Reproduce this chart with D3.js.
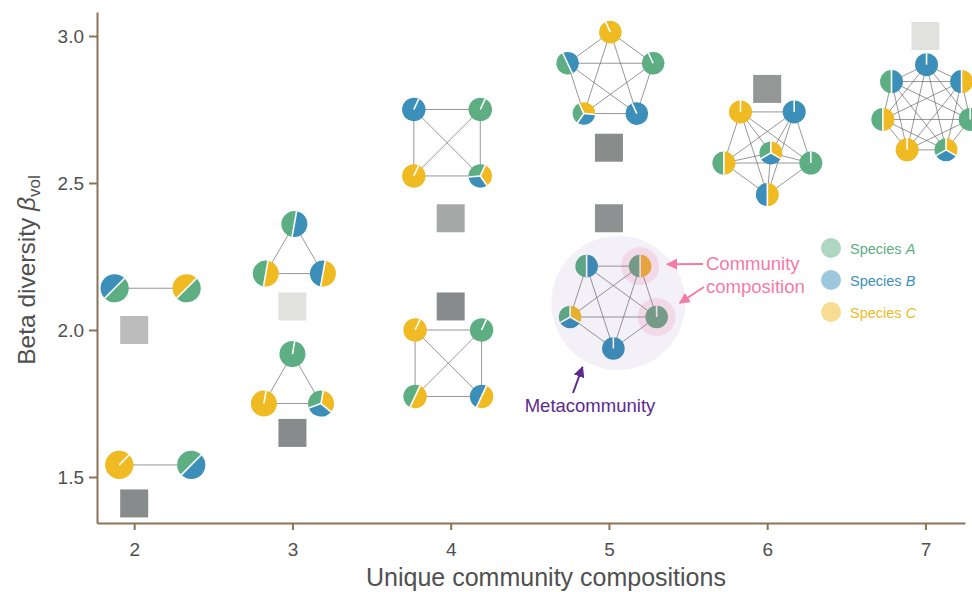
<!DOCTYPE html>
<html>
<head>
<meta charset="utf-8">
<script src="https://cdn.jsdelivr.net/npm/d3@7"></script>
<style>
  body { margin: 0; background: #fff; }
  text { font-family: "Liberation Sans", Arial, Helvetica, sans-serif; }
</style>
</head>
<body>
<svg id="chart" width="972" height="592"></svg>
<script>
// ---- data -------------------------------------------------------------
const compositionTicks = [2, 3, 4, 5, 6, 7];
const betaTicks = [1.5, 2.0, 2.5, 3.0];

// beta diversity of each example metacommunity (grey squares)
const betaX = [2, 2, 3, 3, 4, 4, 5, 5, 6, 7];
const betaY = [2.00, 1.41, 2.08, 1.65, 2.38, 2.08, 2.62, 2.38, 2.82, 3.00];
// relative lightness of each square (0 = dark, 1 = light)
const betaShade = [0.58, 0.02, 1.0, 0.02, 0.35, 0.02, 0.04, 0.10, 0.16, 1.0];

// metacommunity networks: centre (data units) and community compositions,
// listed clockwise around the network
const netCx = [2.104, 2.133, 3.012, 3.000, 3.977, 3.985, 5.009, 5.028, 6.001, 7.007];
const netCy = [2.142, 1.541, 2.248, 1.806, 2.637, 1.887, 2.860, 2.092, 2.616, 2.750];
const netNodes = [
  ["AB", "AC"],
  ["C", "AB"],
  ["AB", "BC", "AC"],
  ["A", "ABC", "C"],
  ["B", "A", "ABC", "C"],
  ["C", "A", "BC", "AC"],
  ["C", "A", "B", "ABC", "AB"],
  ["B", "ABC", "AB", "AC", "A"],
  ["BC", "AC", "C", "B", "A"],
  ["B", "BC", "A", "ABC", "C", "AC", "AB"]
];
// extra community drawn in the middle of a network
const netHub = [null, null, null, null, null, null, null, null, "ABC", null];

const speciesNames = ["A", "B", "C"];

// ---- layout -----------------------------------------------------------
const layoutRadius = [36, 36, 33, 33, 47, 47, 45, 45.5, 45.7, 44.8];
const firstVertex  = [180, 180, -90, -90, -135, -135, -90, 90, 90, -90];
const nodeRadius   = [14, 14, 13, 13, 11.7, 11.7, 11.3, 11.3, 11.5, 11.5];
const sliceStart   = [225, 45, 10, 10, 25, 25, -25, 0, 0, 0];
const hubOffset    = [3.5, 4];
const highlightNet = 7;
const highlightNodes = [3, 4];

const speciesColor = { A: "#5dae83", B: "#3b8fb8", C: "#f0ba23" };
const axisColor = "#8b7356";
const textColor = "#505050";

const svg = d3.select("#chart");
const x = d3.scaleLinear().domain([1.765, 7.25]).range([97, 965]);
const y = d3.scaleLinear().domain([1.3435, 3.0816]).range([523, 12]);
const shade = d3.scaleLinear().domain([0, 1]).range(["#868989", "#e1e1e0"]);

// ---- axes -------------------------------------------------------------
const xAxis = svg.append("g")
  .attr("transform", `translate(0,${y.range()[0]})`)
  .call(d3.axisBottom(x).tickValues(compositionTicks).tickFormat(d3.format("d"))
    .tickSize(7).tickSizeOuter(0).tickPadding(13));
const yAxis = svg.append("g")
  .attr("transform", `translate(${x.range()[0]},0)`)
  .call(d3.axisLeft(y).tickValues(betaTicks).tickFormat(d3.format(".1f"))
    .tickSize(8).tickSizeOuter(0).tickPadding(5));
[xAxis, yAxis].forEach(g => {
  g.select(".domain").attr("stroke", axisColor).attr("stroke-width", 2);
  g.selectAll(".tick line").attr("stroke", axisColor).attr("stroke-width", 2);
  g.selectAll(".tick text").attr("fill", textColor).attr("font-size", 19)
    .attr("font-family", '"Liberation Sans", Arial, sans-serif');
});

svg.append("text")
  .attr("x", 546).attr("y", 586)
  .attr("text-anchor", "middle").attr("font-size", 25).attr("fill", textColor)
  .text("Unique community compositions");

const yTitle = svg.append("text")
  .attr("transform", "translate(35,270) rotate(-90)")
  .attr("text-anchor", "middle").attr("font-size", 24.5).attr("fill", textColor);
yTitle.append("tspan").text("Beta diversity ");
yTitle.append("tspan").attr("font-style", "italic").text("β");
yTitle.append("tspan").attr("font-size", 17).attr("dy", 5).text("vol");

// ---- beta diversity squares ------------------------------------------
const sq = 28;
svg.append("g").selectAll("rect")
  .data(betaX.map((v, i) => ({ x: v, y: betaY[i], s: betaShade[i] })))
  .join("rect")
  .attr("x", d => x(d.x) - sq / 2)
  .attr("y", d => y(d.y) - sq / 2)
  .attr("width", sq).attr("height", sq)
  .attr("fill", d => shade(d.s));

// ---- networks ---------------------------------------------------------
const rad = Math.PI / 180;

function nodePositions(i) {
  const cx = x(netCx[i]), cy = y(netCy[i]);
  const ring = netNodes[i];
  const pts = ring.map((comp, k) => {
    const a = (firstVertex[i] + k * 360 / ring.length) * rad;
    return { comp, px: cx + layoutRadius[i] * Math.cos(a), py: cy + layoutRadius[i] * Math.sin(a) };
  });
  if (netHub[i]) pts.push({ comp: netHub[i], px: cx + hubOffset[0], py: cy + hubOffset[1] });
  return pts;
}

function drawNode(g, node, r, start) {
  const members = speciesNames.filter(s => node.comp.includes(s)).reverse();
  const n = members.length;
  const a0 = start * rad;
  const step = 2 * Math.PI / n;
  const ng = g.append("g").attr("transform", `translate(${node.px},${node.py})`);
  const arc = d3.arc().innerRadius(0).outerRadius(r);
  members.forEach((s, k) => {
    ng.append("path")
      .attr("d", arc({ startAngle: a0 + k * step, endAngle: a0 + (k + 1) * step }))
      .attr("fill", speciesColor[s]);
  });
  members.forEach((s, k) => {
    const a = a0 + k * step;
    ng.append("line")
      .attr("x1", 0).attr("y1", 0)
      .attr("x2", r * Math.sin(a)).attr("y2", -r * Math.cos(a))
      .attr("stroke", "#fff").attr("stroke-width", 1.6);
  });
}

const netLayer = svg.append("g");
netNodes.forEach((_, i) => {
  const g = netLayer.append("g");
  const pts = nodePositions(i);
  // every pair of communities is linked
  const links = [];
  for (let a = 0; a < pts.length; a++)
    for (let b = a + 1; b < pts.length; b++) links.push([pts[a], pts[b]]);
  g.selectAll("line.link").data(links).join("line")
    .attr("class", "link")
    .attr("x1", d => d[0].px).attr("y1", d => d[0].py)
    .attr("x2", d => d[1].px).attr("y2", d => d[1].py)
    .attr("stroke", "#6a6a6a").attr("stroke-width", 0.7);
  pts.forEach(p => drawNode(g, p, nodeRadius[i], sliceStart[i]));

  if (i === highlightNet) {
    g.append("circle")
      .attr("cx", x(netCx[i]) + 5).attr("cy", y(netCy[i]))
      .attr("r", 67).attr("fill", "#6a3d9a").attr("fill-opacity", 0.08);
    highlightNodes.forEach(k => {
      g.append("circle")
        .attr("cx", pts[k].px).attr("cy", pts[k].py).attr("r", 19)
        .attr("fill", "#f06c9f").attr("fill-opacity", 0.17);
    });
  }
});

// ---- annotations ------------------------------------------------------
const pink = "#f57aa7", purple = "#5d2a8e";
const defs = svg.append("defs");
[["headPink", pink], ["headPurple", purple]].forEach(([id, c]) => {
  defs.append("marker").attr("id", id)
    .attr("viewBox", "0 0 10 10").attr("refX", 9).attr("refY", 5)
    .attr("markerWidth", 5.5).attr("markerHeight", 5.5).attr("orient", "auto")
    .append("path").attr("d", "M0,0 L10,5 L0,10 Z").attr("fill", c);
});

const hl = nodePositions(highlightNet);
const h1 = hl[highlightNodes[0]], h2 = hl[highlightNodes[1]];
svg.append("line")
  .attr("x1", 703).attr("y1", 264).attr("x2", h1.px + 27).attr("y2", h1.py - 2)
  .attr("stroke", pink).attr("stroke-width", 2).attr("marker-end", "url(#headPink)");
svg.append("line")
  .attr("x1", 704).attr("y1", 287).attr("x2", h2.px + 23).attr("y2", h2.py - 14)
  .attr("stroke", pink).attr("stroke-width", 2).attr("marker-end", "url(#headPink)");
const ann = svg.append("text").attr("fill", pink).attr("font-size", 18.5);
ann.append("tspan").attr("x", 706).attr("y", 270).text("Community");
ann.append("tspan").attr("x", 706).attr("y", 293).text("composition");

svg.append("line")
  .attr("x1", 573).attr("y1", 393).attr("x2", 582.5).attr("y2", 367)
  .attr("stroke", purple).attr("stroke-width", 2).attr("marker-end", "url(#headPurple)");
svg.append("text").attr("x", 590).attr("y", 412)
  .attr("text-anchor", "middle").attr("fill", purple).attr("font-size", 18.5)
  .text("Metacommunity");

// ---- legend -----------------------------------------------------------
const legend = svg.append("g").attr("transform", "translate(831,248)");
speciesNames.forEach((s, k) => {
  const row = legend.append("g").attr("transform", `translate(0,${k * 32})`);
  row.append("circle").attr("r", 10).attr("fill", speciesColor[s]).attr("fill-opacity", 0.5);
  const t = row.append("text").attr("x", 19).attr("y", 5.5)
    .attr("font-size", 14.5).attr("fill", speciesColor[s]);
  t.append("tspan").text("Species ");
  t.append("tspan").attr("font-style", "italic").text(s);
});
</script>
</body>
</html>
